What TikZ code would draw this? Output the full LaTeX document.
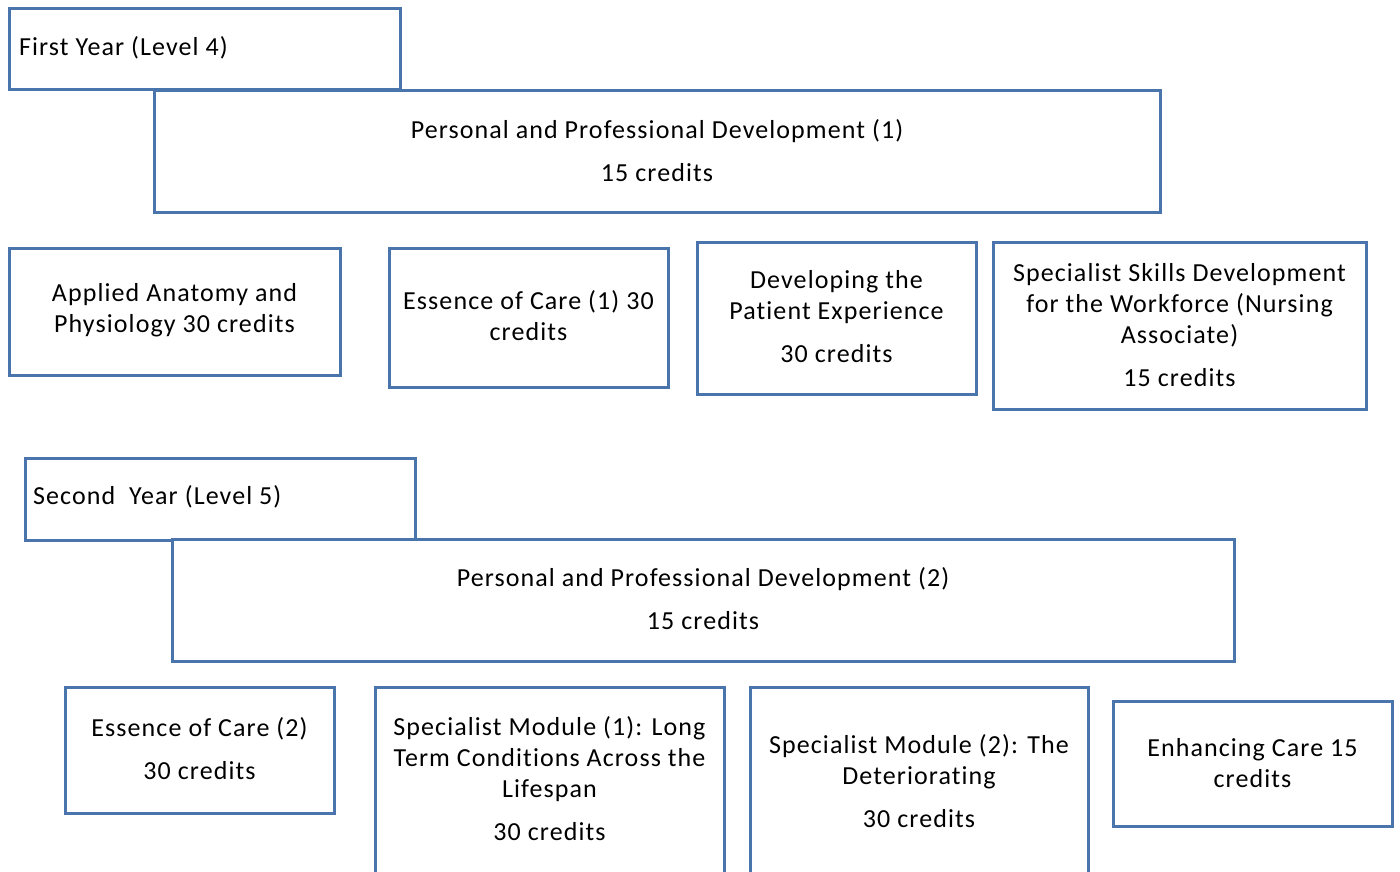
\documentclass[tikz,border=0pt]{standalone}
\usepackage{fontspec}
\setmainfont{Carlito}[LetterSpace=4.2,Ligatures=NoCommon]
\definecolor{boxblue}{HTML}{4A74AC}
\begin{document}
\begin{tikzpicture}[x=1pt,y=-1pt,
  box/.style={draw=boxblue, line width=3pt, fill=white, inner sep=0pt},
  txt/.style={align=center, inner sep=0pt, font=\fontsize{26}{31}\selectfont},
  ltxt/.style={anchor=west, inner sep=0pt, font=\fontsize{26}{31}\selectfont}]
\useasboundingbox (0,0) rectangle (1400,872);
\begin{scope}
\clip (0,0) rectangle (1400,872);
% year 1
\node[box, minimum width=391, minimum height=81] (y1) at (204.5,49.5) {};
\node[ltxt] (y1t) at (19,48) {First Year (Level 4)};
\node[box, minimum width=1006, minimum height=121] (ppd1) at (657,151.5) {};
\node[txt] (ppd1t) at (657,150.5) {Personal and Professional Development (1)\\[12pt]15 credits};
\node[box, minimum width=331, minimum height=127] (aap) at (174.5,311.5) {};
\node[txt] (aapt) at (174.5,310.5) {Applied Anatomy and\\Physiology 30 credits};
\node[box, minimum width=279, minimum height=139] (eoc1) at (528.5,317.5) {};
\node[txt] (eoc1t) at (528.5,315.5) {Essence of Care (1) 30\\credits};
\node[box, minimum width=279, minimum height=152] (dpe) at (836.5,318) {};
\node[txt] (dpet) at (836.5,317) {Developing the\\Patient Experience\\[12pt]30 credits};
\node[box, minimum width=373, minimum height=167] (ssd) at (1179.5,325.5) {};
\node[txt] (ssdt) at (1179.5,325) {Specialist Skills Development\\for the Workforce (Nursing\\Associate)\\[12pt]15 credits};
% year 2
\node[box, minimum width=390, minimum height=82] (y2) at (220,499) {};
\node[ltxt] (y2t) at (33,497) {Second\ \ Year (Level 5)};
\node[box, minimum width=1062, minimum height=122] (ppd2) at (703,600) {};
\node[txt] (ppd2t) at (703,598.5) {Personal and Professional Development (2)\\[12pt]15 credits};
\node[box, minimum width=269, minimum height=126] (eoc2) at (199.5,750) {};
\node[txt] (eoc2t) at (199.5,748.5) {Essence of Care (2)\\[12pt]30 credits};
\node[box, minimum width=349, minimum height=230] (sm1) at (549.5,802) {};
\node[txt] (sm1t) at (549.5,779) {Specialist Module (1): Long\\Term Conditions Across the\\Lifespan\\[12pt]30 credits};
\node[box, minimum width=338, minimum height=230] (sm2) at (919,802) {};
\node[txt] (sm2t) at (919,781) {Specialist Module (2): The\\Deteriorating\\[12pt]30 credits};
\node[box, minimum width=279, minimum height=125] (enh) at (1252.5,763.5) {};
\node[txt] (enht) at (1252.5,763.5) {Enhancing Care 15\\credits};
\end{scope}
\end{tikzpicture}
\end{document}
